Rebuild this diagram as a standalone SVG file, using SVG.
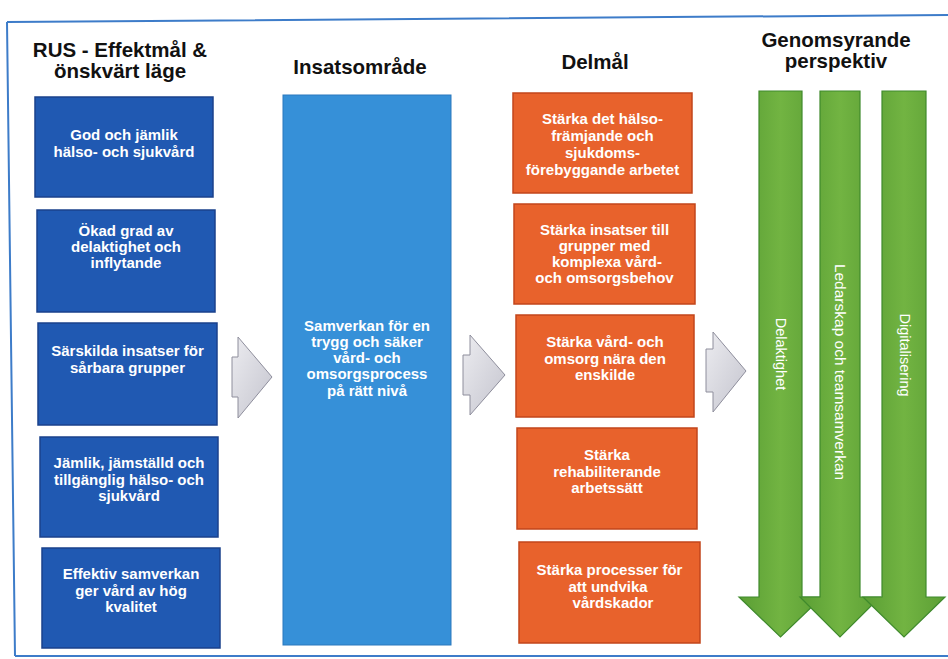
<svg xmlns="http://www.w3.org/2000/svg" width="948" height="659" viewBox="0 0 948 659">
<defs>
<style>
.hdr{font-family:"Liberation Sans",Arial,sans-serif;font-weight:bold;font-size:20.5px;fill:#111;text-anchor:middle}
.bt{font-family:"Liberation Sans",Arial,sans-serif;font-weight:bold;font-size:15px;fill:#fff;text-anchor:middle}
.gt{font-family:"Liberation Sans",Arial,sans-serif;font-size:14.5px;fill:#fff;text-anchor:middle}
.blue{fill:#2059b2;stroke:#1a418c;stroke-width:1.5}
.mid{fill:#3690d8;stroke:#2a78bd;stroke-width:1}
.orange{fill:#e8622c;stroke:#c2461b;stroke-width:1.5}
.green{fill:url(#gg);stroke:#3f8a2c;stroke-width:1.2}
.gray{fill:url(#gr);stroke:#8e8e9c;stroke-width:1}
.frame{fill:none;stroke:#3d7cc9;stroke-width:2}
</style>
<linearGradient id="gg" x1="0" y1="0" x2="1" y2="0">
<stop offset="0" stop-color="#5a9e34"/>
<stop offset="0.5" stop-color="#72b442"/>
<stop offset="1" stop-color="#5c9f35"/>
</linearGradient>
<linearGradient id="gr" x1="0" y1="0" x2="1" y2="1">
<stop offset="0" stop-color="#ececf0"/>
<stop offset="1" stop-color="#c4c4ce"/>
</linearGradient>
</defs>
<rect width="948" height="659" fill="#ffffff"/>
<g id="frame">
<path class="frame" d="M7,22 L948,15 M7,22 L15,656 M15,656 L948,656"/>
</g>
<g id="headers">
<text class="hdr" x="120" y="57">RUS - Effektmål &amp;</text>
<text class="hdr" x="120" y="78">önskvärt läge</text>
<text class="hdr" x="360" y="74">Insatsområde</text>
<text class="hdr" x="595" y="69">Delmål</text>
<text class="hdr" x="836" y="47">Genomsyrande</text>
<text class="hdr" x="836" y="68">perspektiv</text>
</g>
<g id="b1"><rect class="blue" x="35" y="97" width="178" height="100"/>
<text class="bt" x="124" y="140">God och jämlik</text><text class="bt" x="124" y="157">hälso- och sjukvård</text></g>
<g id="b2"><rect class="blue" x="37" y="210" width="178" height="102"/>
<text class="bt" x="126" y="236">Ökad grad av</text><text class="bt" x="126" y="252">delaktighet och</text><text class="bt" x="126" y="268">inflytande</text></g>
<g id="b3"><rect class="blue" x="38" y="323" width="179" height="102"/>
<text class="bt" x="127.5" y="356">Särskilda insatser för</text><text class="bt" x="127.5" y="373">sårbara grupper</text></g>
<g id="b4"><rect class="blue" x="40" y="437" width="178" height="100"/>
<text class="bt" x="129" y="468">Jämlik, jämställd och</text><text class="bt" x="129" y="485">tillgänglig hälso- och</text><text class="bt" x="129" y="501">sjukvård</text></g>
<g id="b5"><rect class="blue" x="42" y="548" width="178" height="100"/>
<text class="bt" x="131" y="579">Effektiv samverkan</text><text class="bt" x="131" y="596">ger vård av hög</text><text class="bt" x="131" y="612">kvalitet</text></g>
<g id="center"><rect class="mid" x="283" y="95" width="168" height="550"/>
<text class="bt" x="367" y="331">Samverkan för en</text><text class="bt" x="367" y="347">trygg och säker</text><text class="bt" x="367" y="363">vård- och</text><text class="bt" x="367" y="379">omsorgsprocess</text><text class="bt" x="367" y="396">på rätt nivå</text></g>
<g id="o1"><rect class="orange" x="513" y="93" width="179" height="100"/>
<text class="bt" x="602.5" y="124">Stärka det hälso-</text><text class="bt" x="602.5" y="141">främjande och</text><text class="bt" x="602.5" y="158">sjukdoms-</text><text class="bt" x="602.5" y="175">förebyggande arbetet</text></g>
<g id="o2"><rect class="orange" x="514" y="204" width="181" height="100"/>
<text class="bt" x="604.5" y="235">Stärka insatser till</text><text class="bt" x="604.5" y="251">grupper med</text><text class="bt" x="607" y="267">komplexa vård-</text><text class="bt" x="604.5" y="283">och omsorgsbehov</text></g>
<g id="o3"><rect class="orange" x="516" y="315" width="178" height="102"/>
<text class="bt" x="605" y="347">Stärka vård- och</text><text class="bt" x="605" y="364">omsorg nära den</text><text class="bt" x="605" y="380">enskilde</text></g>
<g id="o4"><rect class="orange" x="517" y="428" width="180" height="101"/>
<text class="bt" x="607" y="460">Stärka</text><text class="bt" x="607" y="477">rehabiliterande</text><text class="bt" x="607" y="493">arbetssätt</text></g>
<g id="o5"><rect class="orange" x="519" y="542" width="181" height="101"/>
<text class="bt" x="609.5" y="575">Stärka processer för</text><text class="bt" x="608" y="592">att undvika</text><text class="bt" x="613" y="608">vårdskador</text></g>
<g id="connectors">
<path class="gray" d="M232,357 L238,357 L238,337 L272,377 L238,418 L238,397 L232,397 Z"/>
<path class="gray" d="M463,355 L470,355 L470,335 L505,375 L470,415 L470,395 L463,395 Z"/>
<path class="gray" d="M706,349 L713,349 L713,332 L746,371 L713,412 L713,392 L706,392 Z"/>
</g>
<g id="g1"><path class="green" d="M759,91 L802,91 L802,597 L822,597 L780.5,637 L739,597 L759,597 Z"/>
<text class="gt" transform="translate(781,354) rotate(90)" y="5">Delaktighet</text></g>
<g id="g2"><path class="green" d="M820,91 L860,91 L860,597 L880,597 L840,637 L800,597 L820,597 Z"/>
<text class="gt" transform="translate(840,372) rotate(90)" y="5" style="font-size:15.5px">Ledarskap och teamsamverkan</text></g>
<g id="g3"><path class="green" d="M882,91 L926,91 L926,597 L945,597 L904,637 L863,597 L882,597 Z"/>
<text class="gt" transform="translate(905,355) rotate(90)" y="5">Digitalisering</text></g>
</svg>
